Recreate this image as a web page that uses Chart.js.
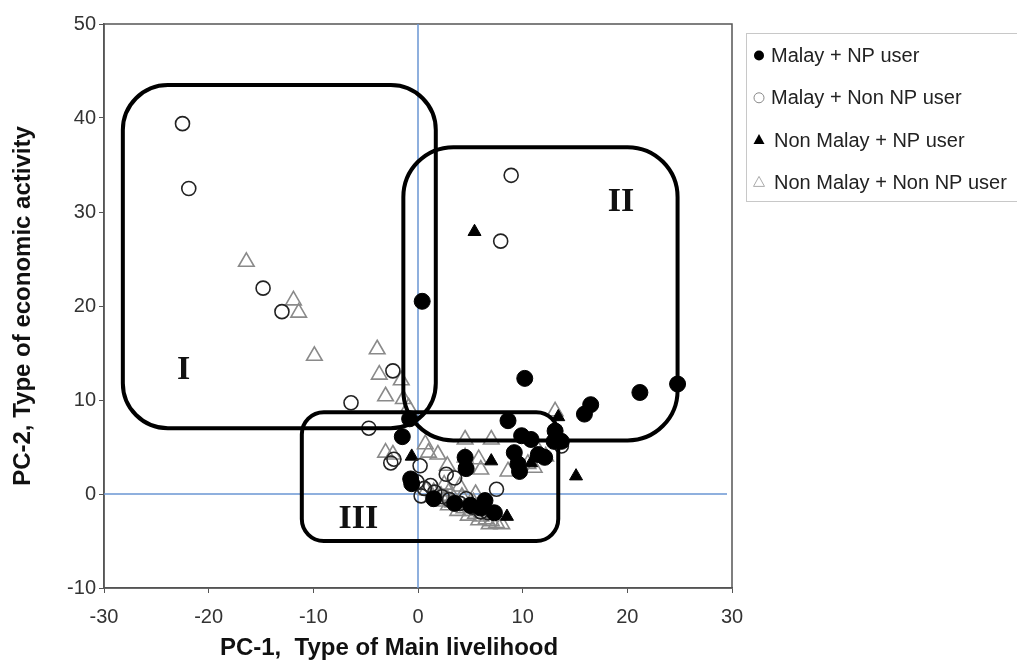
<!DOCTYPE html>
<html>
<head>
<meta charset="utf-8">
<script src="https://cdn.jsdelivr.net/npm/chart.js@4.4.0/dist/chart.umd.min.js"></script>
<style>
  html, body { margin: 0; padding: 0; background: #fff; }
  #wrap { width: 1017px; height: 667px; }
</style>
</head>
<body>
<div id="wrap"><canvas id="pcaChart" width="1017" height="667"></canvas></div>
<script>
// Scores, as [PC-1, PC-2] pairs
const malayNP = [
  [0.4, 20.5], [10.2, 12.3], [21.2, 10.8], [24.8, 11.7], [16.5, 9.5], [15.9, 8.5],
  [8.6, 7.8], [-1.5, 6.1], [-0.8, 8.0], [9.9, 6.2], [10.8, 5.8], [13.0, 5.6],
  [13.7, 5.6], [13.1, 6.7], [9.2, 4.4], [9.55, 3.2], [9.7, 2.4], [11.5, 4.2],
  [12.1, 3.9], [4.5, 3.9], [4.6, 2.7], [-0.7, 1.6], [-0.6, 1.1], [6.4, -0.7],
  [1.5, -0.5], [3.5, -1.0], [5.0, -1.2], [6.0, -1.5], [7.3, -2.0]
];
const malayNonNP = [
  [-22.5, 39.4], [-21.9, 32.5], [-14.8, 21.9], [-13.0, 19.4], [8.9, 33.9], [7.9, 26.9],
  [-2.4, 13.1], [-6.4, 9.7], [-4.7, 7.0], [-2.6, 3.3], [-2.3, 3.7], [0.2, 3.0],
  [7.5, 0.5], [13.7, 5.1], [-0.1, 1.3], [0.6, 0.6], [1.2, 0.9], [1.6, 0.2],
  [2.7, 2.1], [3.5, 1.7], [2.3, -0.3], [3.0, -0.6], [4.0, -1.0], [4.6, -0.5],
  [5.2, -1.4], [6.0, -1.9], [6.7, -2.0], [0.3, -0.2]
];
const nonMalayNP = [
  [5.4, 27.9], [-0.6, 4.0], [7.0, 3.5], [10.8, 3.3], [15.1, 1.9], [8.5, -2.4],
  [13.4, 8.2], [4.5, 3.4]
];
const nonMalayNonNP = [
  [-16.4, 24.7], [-11.9, 20.6], [-11.4, 19.3], [-9.9, 14.7], [-3.9, 15.4], [-3.7, 12.7],
  [-1.6, 12.1], [-3.1, 10.4], [-1.4, 10.1], [-0.9, 9.2], [-3.1, 4.4], [-2.4, 4.2],
  [0.7, 5.3], [1.0, 4.4], [1.9, 4.2], [4.5, 5.8], [7.0, 5.8], [4.5, 3.9],
  [5.8, 3.7], [8.6, 2.4], [10.5, 3.2], [11.1, 2.8], [11.5, 4.6], [12.2, 4.0],
  [13.1, 8.8], [2.8, 3.0], [6.0, 2.6], [0.8, 0.4], [1.5, 0.2], [2.2, -0.2],
  [2.8, -0.5], [3.3, -0.9], [3.9, -1.2], [4.4, -1.5], [5.0, -1.8], [5.5, -2.1],
  [6.0, -2.4], [6.5, -2.7], [7.0, -2.9], [7.5, -3.1], [8.0, -3.2], [6.8, -3.2],
  [5.8, -2.8], [4.8, -2.3], [3.8, -1.8], [2.9, -1.2], [2.0, -0.8], [1.4, -0.3],
  [3.0, 0.3], [4.2, -0.3], [5.3, -0.9], [6.3, -1.5], [7.2, -2.2], [2.5, 1.0],
  [4.0, 0.8], [5.5, 0.0]
];
const seriesLabels = ["Malay + NP user", "Malay + Non NP user", "Non Malay + NP user", "Non Malay + Non NP user"];
const xRange = [-30, 30];
const yRange = [-10, 50];
const tickStep = 10;
const xTitle = "PC-1,  Type of Main livelihood";
const yTitle = "PC-2, Type of economic activity";

// grouping boxes drawn by hand on the original figure (data units)
const groupBoxes = [
  { name: "I",   x1: -28.2, x2: 1.7,  y1: 43.5, y2: 7.0,  radius: 45, labelX: -22.4, labelY: 13.2 },
  { name: "II",  x1: -1.4,  x2: 24.8, y1: 36.9, y2: 5.7,  radius: 50, labelX: 19.4,  labelY: 31.0 },
  { name: "III", x1: -11.1, x2: 13.4, y1: 8.7,  y2: -5.0, radius: 22, labelX: -5.7,  labelY: -2.7 }
];

const sansFont = '"Liberation Sans", Arial, sans-serif';

function toPoints(pairs) {
  return pairs.map(p => ({ x: p[0], y: p[1] }));
}

function roundedBox(ctx, x, y, w, h, r) {
  ctx.beginPath();
  ctx.moveTo(x + r, y);
  ctx.arcTo(x + w, y, x + w, y + h, r);
  ctx.arcTo(x + w, y + h, x, y + h, r);
  ctx.arcTo(x, y + h, x, y, r);
  ctx.arcTo(x, y, x + w, y, r);
  ctx.closePath();
}

// blue zero lines and the plot frame
const zeroLines = {
  id: "zeroLines",
  beforeDatasetsDraw(chart) {
    const { ctx, chartArea, scales } = chart;
    ctx.save();
    ctx.strokeStyle = "#555";
    ctx.lineWidth = 1.5;
    ctx.strokeRect(chartArea.left, chartArea.top, chartArea.right - chartArea.left, chartArea.bottom - chartArea.top);
    ctx.strokeStyle = "#6b97d3";
    ctx.lineWidth = 1.5;
    const x0 = scales.x.getPixelForValue(0);
    const y0 = scales.y.getPixelForValue(0);
    ctx.beginPath();
    ctx.moveTo(x0, chartArea.top);
    ctx.lineTo(x0, chartArea.bottom);
    ctx.moveTo(chartArea.left, y0);
    ctx.lineTo(chartArea.right - 5, y0);
    ctx.stroke();
    ctx.restore();
  }
};

const groupOverlay = {
  id: "groupOverlay",
  afterDatasetsDraw(chart) {
    const { ctx, scales } = chart;
    ctx.save();
    ctx.strokeStyle = "#000";
    ctx.lineWidth = 4;
    groupBoxes.forEach(b => {
      const left = scales.x.getPixelForValue(b.x1);
      const right = scales.x.getPixelForValue(b.x2);
      const top = scales.y.getPixelForValue(b.y1);
      const bottom = scales.y.getPixelForValue(b.y2);
      roundedBox(ctx, left, top, right - left, bottom - top, b.radius);
      ctx.stroke();
    });
    ctx.fillStyle = "#111";
    ctx.font = 'bold 34px "Liberation Serif", "Times New Roman", serif';
    ctx.textAlign = "center";
    ctx.textBaseline = "middle";
    groupBoxes.forEach(b => {
      ctx.fillText(b.name, scales.x.getPixelForValue(b.labelX), scales.y.getPixelForValue(b.labelY));
    });
    ctx.restore();
  }
};

// x title sits a little left of the plot centre in the original
const xTitleDraw = {
  id: "xTitleDraw",
  afterDraw(chart) {
    const ctx = chart.ctx;
    ctx.save();
    ctx.fillStyle = "#111";
    ctx.font = "bold 24px " + sansFont;
    ctx.textAlign = "center";
    ctx.textBaseline = "middle";
    ctx.fillText(xTitle, 389, 648);
    ctx.restore();
  }
};

// legend box on the right, like the original
const sideLegend = {
  id: "sideLegend",
  afterDraw(chart) {
    const ctx = chart.ctx;
    const boxX = 746.5, boxY = 33.5, rowH = 42.3;
    ctx.save();
    ctx.strokeStyle = "#c8c8c8";
    ctx.lineWidth = 1;
    ctx.strokeRect(boxX, boxY, 290, 168);
    ctx.font = "20px " + sansFont;
    ctx.textBaseline = "middle";
    ctx.textAlign = "left";
    chart.data.datasets.forEach((ds, i) => {
      const cy = boxY + 22 + i * rowH;
      const cx = 759;
      ctx.beginPath();
      if (ds.pointStyle === "circle") {
        ctx.arc(cx, cy, 5, 0, Math.PI * 2);
      } else {
        ctx.moveTo(cx, cy - 6);
        ctx.lineTo(cx + 5.5, cy + 4);
        ctx.lineTo(cx - 5.5, cy + 4);
        ctx.closePath();
      }
      if (ds.backgroundColor !== "transparent") {
        ctx.fillStyle = "#000";
        ctx.fill();
      } else {
        ctx.strokeStyle = i === 1 ? "#888" : "#aaa";
        ctx.lineWidth = 1;
        ctx.stroke();
      }
      ctx.fillStyle = "#222";
      ctx.fillText(ds.label, ds.pointStyle === "circle" ? 771 : 774, cy + 1);
    });
    ctx.restore();
  }
};

const ctx = document.getElementById("pcaChart").getContext("2d");
new Chart(ctx, {
  type: "scatter",
  data: {
    datasets: [
      {
        label: seriesLabels[0],
        data: toPoints(malayNP),
        pointStyle: "circle",
        pointRadius: 8,
        backgroundColor: "#000",
        borderColor: "#000",
        borderWidth: 1
      },
      {
        label: seriesLabels[1],
        data: toPoints(malayNonNP),
        pointStyle: "circle",
        pointRadius: 7,
        backgroundColor: "transparent",
        borderColor: "#222",
        borderWidth: 1.6
      },
      {
        label: seriesLabels[2],
        data: toPoints(nonMalayNP),
        pointStyle: "triangle",
        pointRadius: 7.5,
        backgroundColor: "#000",
        borderColor: "#000",
        borderWidth: 1
      },
      {
        label: seriesLabels[3],
        data: toPoints(nonMalayNonNP),
        pointStyle: "triangle",
        pointRadius: 9,
        backgroundColor: "transparent",
        borderColor: "#8a8a8a",
        borderWidth: 1.6
      }
    ]
  },
  options: {
    responsive: false,
    animation: false,
    events: [],
    layout: { padding: { top: 24, right: 285, bottom: 0, left: 0 } },
    plugins: {
      legend: { display: false },
      tooltip: { enabled: false }
    },
    scales: {
      x: {
        type: "linear",
        min: xRange[0],
        max: xRange[1],
        afterFit(scale) { scale.height = 79; },
        ticks: {
          stepSize: tickStep,
          color: "#333",
          padding: 12,
          font: { family: sansFont, size: 20 }
        },
        grid: { drawOnChartArea: false, drawTicks: true, tickLength: 5, color: "#555" },
        border: { color: "#555", width: 1.5 },
        title: { display: false }
      },
      y: {
        type: "linear",
        min: yRange[0],
        max: yRange[1],
        afterFit(scale) { scale.width = 104; },
        ticks: {
          stepSize: tickStep,
          color: "#333",
          padding: 3,
          font: { family: sansFont, size: 20 }
        },
        grid: { drawOnChartArea: false, drawTicks: true, tickLength: 5, color: "#555" },
        border: { color: "#555", width: 1.5 },
        title: {
          display: true,
          text: yTitle,
          color: "#111",
          font: { family: sansFont, size: 24, weight: "bold" },
          padding: { top: 9, bottom: 0 }
        }
      }
    }
  },
  plugins: [zeroLines, groupOverlay, xTitleDraw, sideLegend]
});
</script>
</body>
</html>
